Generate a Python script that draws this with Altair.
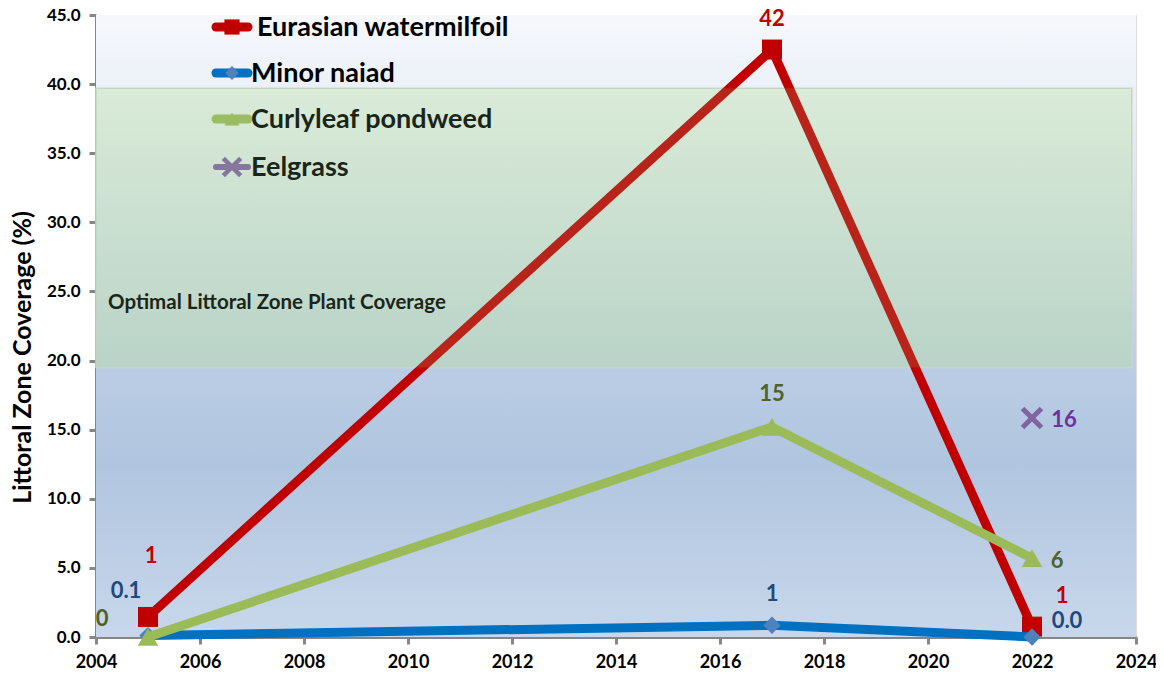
import altair as alt
import pandas as pd

# ---------------- data ----------------
years = [2005, 2017, 2022]
milfoil = [1.45, 42.5, 0.75]
milfoil_labels = ["1", "42", "1"]
naiad = [0.1, 0.85, 0.0]
naiad_labels = ["0.1", "1", "0.0"]
curlyleaf = [0.0, 15.2, 5.7]
curlyleaf_labels = ["0", "15", "6"]
eelgrass_years = [2022]
eelgrass = [15.85]
eelgrass_labels = ["16"]

series_names = ["Eurasian watermilfoil", "Minor naiad", "Curlyleaf pondweed", "Eelgrass"]

x_ticks = list(range(2004, 2025, 2))
y_ticks = [0, 5, 10, 15, 20, 25, 30, 35, 40, 45]
x_domain = [2004, 2024]
y_domain = [0, 45]
optimal_range = [19.5, 39.7]
band_end_year = 2023.92
band_label = "Optimal Littoral Zone Plant Coverage"
y_title = "Littoral Zone Coverage (%)"

# ---------------- styles ----------------
FONT = "Lato"
W, H = 1040, 622
GRAY = "#868686"

styles = {
    "Eurasian watermilfoil": dict(line="#c00000", fill="#c00000", shape="square", size=400, lsize=230, text="#c00000"),
    "Minor naiad": dict(line="#0070c0", fill="#4f81bd", shape="diamond", size=300, lsize=190, text="#1f497d"),
    "Curlyleaf pondweed": dict(line="#9bbb59", fill="#9bbb59", shape="triangle-up", size=420, lsize=230, text="#4f6228"),
    "Eelgrass": dict(line="#8064a2", fill="#8064a2", shape="M-1,-1L1,1M-1,1L1,-1", size=360, lsize=300, text="#7030a0"),
}
# label offsets (dx, dy) in pixels, one per point
offsets = {
    "Eurasian watermilfoil": [(3, -61), (0, -31), (30, -31)],
    "Minor naiad": [(-22, -45), (0, -31), (35, -16)],
    "Curlyleaf pondweed": [(-46, -18), (0, -33), (25, 3)],
    "Eelgrass": [(32, 2)],
}

xs = alt.Scale(domain=x_domain, nice=False, zero=False)
ys = alt.Scale(domain=y_domain, nice=False, zero=False)
xaxis = alt.Axis(values=x_ticks, format="d", title=None, grid=False,
                 labelFont=FONT, labelFontSize=18, labelFontWeight="bold", labelColor="#000000",
                 labelPadding=9, domainColor=GRAY, domainWidth=3, tickColor=GRAY, tickWidth=3,
                 tickSize=7, labelFlush=False)
yaxis = alt.Axis(values=y_ticks, format=".1f", title=y_title, grid=False,
                 labelFont=FONT, labelFontSize=17, labelFontWeight="bold", labelColor="#000000",
                 labelPadding=9, domainColor=GRAY, domainWidth=3, tickColor=GRAY, tickWidth=3,
                 tickSize=7, titleFont=FONT, titleFontSize=25, titleFontWeight="bold",
                 titleColor="#000000", titlePadding=11, titleY=342, labelFlush=False)


def X(field):
    return alt.X(field, type="quantitative", scale=xs, axis=xaxis)


def Y(field):
    return alt.Y(field, type="quantitative", scale=ys, axis=yaxis)


layers = []

# plot background gradient
bg_df = pd.DataFrame({"x": [x_domain[0]], "x2": [x_domain[1]], "y": [y_domain[0]], "y2": [y_domain[1]]})
bg_grad = alt.Gradient(gradient="linear", x1=0, x2=0, y1=0, y2=1, stops=[
    alt.GradientStop(offset=0.0, color="#f6f8fc"),
    alt.GradientStop(offset=0.15, color="#e9eef7"),
    alt.GradientStop(offset=0.55, color="#bccee5"),
    alt.GradientStop(offset=0.72, color="#b0c5df"),
    alt.GradientStop(offset=1.0, color="#c8d7eb"),
])
layers.append(alt.Chart(bg_df).mark_rect(color=bg_grad).encode(x=X("x"), x2="x2", y=Y("y"), y2="y2"))

# optimal band
band_df = pd.DataFrame({"x": [x_domain[0]], "x2": [band_end_year], "y": [optimal_range[0]], "y2": [optimal_range[1]]})
band_grad = alt.Gradient(gradient="linear", x1=0, x2=0, y1=0, y2=1, stops=[
    alt.GradientStop(offset=0.0, color="#e9f3e9"),
    alt.GradientStop(offset=1.0, color="#c2d6d6"),
])
layers.append(alt.Chart(band_df).mark_rect(color=band_grad, stroke="#cdd6d0", strokeWidth=1.5)
              .encode(x=X("x"), x2="x2", y=Y("y"), y2="y2"))

one = pd.DataFrame({"t": [band_label]})
layers.append(alt.Chart(one).mark_text(font=FONT, fontSize=20.5, fontWeight="bold", color="#000000",
                                        align="left", baseline="middle")
              .encode(x=alt.value(12), y=alt.value(288), text="t:N"))

# series
series_data = {
    "Eurasian watermilfoil": (years, milfoil, milfoil_labels),
    "Minor naiad": (years, naiad, naiad_labels),
    "Curlyleaf pondweed": (years, curlyleaf, curlyleaf_labels),
    "Eelgrass": (eelgrass_years, eelgrass, eelgrass_labels),
}

for name in series_names:
    yr, vals, labs = series_data[name]
    st = styles[name]
    df = pd.DataFrame({"year": yr, "value": vals, "label": labs})
    if len(yr) > 1:
        layers.append(alt.Chart(df).mark_line(color=st["line"], strokeWidth=9, strokeCap="round",
                                              strokeJoin="round")
                      .encode(x=X("year"), y=Y("value")))
    if name == "Eelgrass":
        pt = alt.Chart(df).mark_point(shape=st["shape"], size=st["size"], filled=False,
                                      stroke=st["fill"], strokeWidth=5, opacity=1)
    else:
        pt = alt.Chart(df).mark_point(shape=st["shape"], size=st["size"], filled=True,
                                      fill=st["fill"], opacity=1, strokeWidth=0)
    layers.append(pt.encode(x=X("year"), y=Y("value")))
    for i in range(len(yr)):
        dx, dy = offsets[name][i]
        layers.append(alt.Chart(df.iloc[[i]]).mark_text(font=FONT, fontSize=22, fontWeight="bold",
                                                          color=st["text"], dx=dx, dy=dy,
                                                          baseline="middle", align="center")
                      .encode(x=X("year"), y=Y("value"), text="label:N"))

# manual legend (pixel positions inside the plot area)
leg_row_y = [12, 58, 104, 152]
leg_text_x = [161, 155, 155, 155]
for i, name in enumerate(series_names):
    st = styles[name]
    d = pd.DataFrame({"t": [name]})
    ly = leg_row_y[i]
    rule_w = 6 if name == "Eelgrass" else 9
    layers.append(alt.Chart(d).mark_rule(color=st["line"], strokeWidth=rule_w, strokeCap="round")
                  .encode(x=alt.value(120), x2=alt.value(152), y=alt.value(ly)))
    if name == "Eelgrass":
        mk = alt.Chart(d).mark_point(shape=st["shape"], size=st["lsize"], filled=False,
                                     stroke=st["fill"], strokeWidth=4.5, opacity=1)
    else:
        mk = alt.Chart(d).mark_point(shape=st["shape"], size=st["lsize"], filled=True,
                                     fill=st["fill"], opacity=1, strokeWidth=0)
    layers.append(mk.encode(x=alt.value(136), y=alt.value(ly)))
    layers.append(alt.Chart(d).mark_text(font=FONT, fontSize=27, fontWeight="bold", color="#000000",
                                         align="left", baseline="middle")
                  .encode(x=alt.value(leg_text_x[i]), y=alt.value(ly + 1), text="t:N"))

# translucent green overlay of the band (tints what lies beneath)
layers.append(alt.Chart(band_df).mark_rect(fill="#96c88c", opacity=0.18)
              .encode(x=X("x"), x2="x2", y=Y("y"), y2="y2"))

chart = alt.layer(*layers).properties(
    width=W, height=H,
    autosize=alt.AutoSizeParams(type="none"),
    padding={"left": 88, "top": 7, "right": 20, "bottom": 36},
).configure_view(stroke=None).configure(background="#ffffff")

chart.save("out.html", embed_options={"renderer": "svg", "actions": False})
